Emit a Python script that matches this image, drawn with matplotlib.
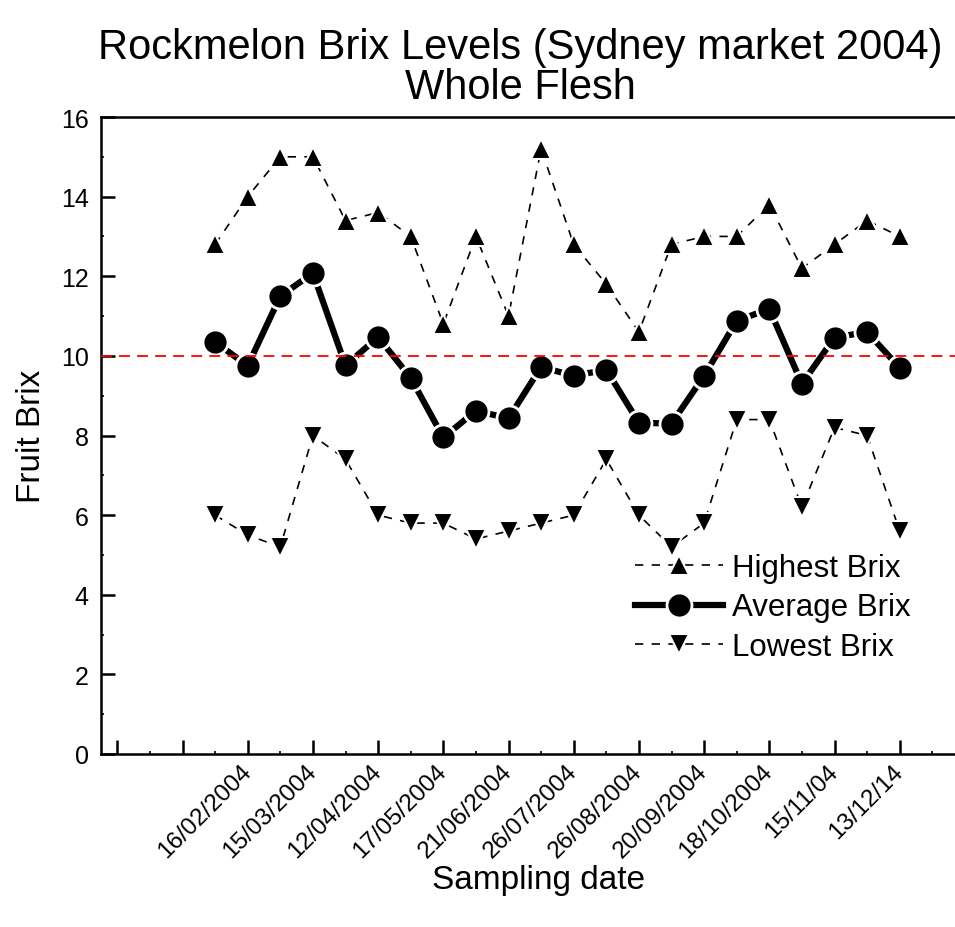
import numpy as np
import matplotlib
matplotlib.use("Agg")
import matplotlib.pyplot as plt
from matplotlib.ticker import FixedLocator, MultipleLocator

plt.rcParams['font.family'] = ['Liberation Sans', 'DejaVu Sans']

# sampling index (one per sampling date)
sample = np.arange(22)

highest = [12.8, 14.0, 15.0, 15.0, 13.4, 13.6, 13.0, 10.8, 13.0, 11.0, 15.2,
           12.8, 11.8, 10.6, 12.8, 13.0, 13.0, 13.8, 12.2, 12.8, 13.4, 13.0]
average = [10.35, 9.75, 11.5, 12.08, 9.76, 10.47, 9.45, 7.95, 8.62, 8.43, 9.72,
           9.5, 9.65, 8.32, 8.3, 9.5, 10.88, 11.18, 9.3, 10.46, 10.6, 9.7]
lowest = [6.0, 5.5, 5.2, 8.0, 7.4, 6.0, 5.8, 5.8, 5.4, 5.6, 5.8,
          6.0, 7.4, 6.0, 5.2, 5.8, 8.4, 8.4, 6.2, 8.2, 8.0, 5.6]

tick_pos = [-3, -1, 1, 3, 5, 7, 9, 11, 13, 15, 17, 19, 21]
tick_labels = ['', '', '16/02/2004', '15/03/2004', '12/04/2004', '17/05/2004',
               '21/06/2004', '26/07/2004', '26/08/2004', '20/09/2004',
               '18/10/2004', '15/11/04', '13/12/14']

fig = plt.figure(figsize=(9.55, 9.28), dpi=100)
# axes run past the right edge of the figure, like the original
ax = fig.add_axes([101/955, 1 - 755/928, 874/955, 637/928])

ax.plot(sample, highest, color='black', lw=1.2, ls=(0, (5, 5)),
        marker='^', ms=15, mec='white', mew=1.5, label='Highest Brix')
ax.plot(sample, average, color='black', lw=4.5,
        marker='o', ms=18, mec='white', mew=2, label='Average Brix')
ax.plot(sample, lowest, color='black', lw=1.2, ls=(0, (5, 5)),
        marker='v', ms=15, mec='white', mew=1.5, label='Lowest Brix')
ax.axhline(10, color='red', lw=1.3, ls=(0, (6, 4)), zorder=5)

ax.set_xlim(-3.5, -3.5 + 874/32.6)
ax.set_ylim(0, 16)
ax.xaxis.set_major_locator(FixedLocator(tick_pos))
ax.set_xticklabels(tick_labels, rotation=45, ha='right', va='center',
                   rotation_mode='anchor')
ax.xaxis.set_minor_locator(MultipleLocator(1))
ax.yaxis.set_major_locator(MultipleLocator(2))
ax.yaxis.set_minor_locator(MultipleLocator(1))

ax.tick_params(which='major', direction='in', length=10, width=1.8,
               labelsize=18, pad=9, top=False, right=False)
ax.tick_params(axis='x', which='major', pad=10, labelsize=17.5)
ax.tick_params(which='minor', direction='in', length=2.5, width=1.2,
               top=False, right=False)
for s in ax.spines.values():
    s.set_linewidth(1.8)

ax.set_xlabel('Sampling date', fontsize=24)
ax.xaxis.set_label_coords(0.5, -0.172)
ax.set_ylabel('Fruit Brix', fontsize=24, labelpad=10)

fig.text(0.545, 1 - 28/928, 'Rockmelon Brix Levels (Sydney market 2004)\nWhole Flesh',
         ha='center', va='top', fontsize=30, linespacing=1.0)

ax.legend(loc='upper left', bbox_to_anchor=(0.597, 0.335), frameon=False,
          fontsize=22.5, handlelength=2.8, handletextpad=0.3, labelspacing=0.3,
          borderaxespad=0)

fig.savefig('out.png', dpi=100)
